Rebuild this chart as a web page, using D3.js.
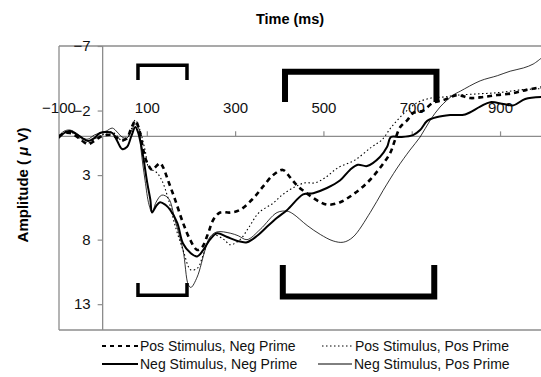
<!DOCTYPE html>
<html>
<head>
<meta charset="utf-8">
<script src="https://cdn.jsdelivr.net/npm/d3@7"></script>
<style>
  body { margin: 0; background: #fff; }
  svg { display: block; font-family: "Liberation Sans", Arial, sans-serif; }
</style>
</head>
<body>
<svg id="chart" width="541" height="377"></svg>
<script>
// données (temps en ms, amplitude en µV)
const xTicks = [-100, 100, 300, 500, 700, 900];
const yTicks = [-7, -2, 3, 8, 13];

const negNegT = [-100, -87, -74, -60, -46, -33, -19, -6, 8, 22, 33, 44, 55, 65, 74, 80, 87, 92, 101, 108, 112, 121, 130, 142, 153, 169, 182, 198, 214, 228, 243, 259, 282, 305, 327, 350, 372, 395, 418, 454, 477, 508, 538, 560, 578, 599, 628, 644, 653, 674, 703, 719, 735, 758, 787, 821, 855, 878, 908, 930, 957, 993];
const negNegV = [0.13, -0.26, -0.41, -0.18, 0.13, 0.36, 0.13, -0.26, -0.33, -0.26, 0.36, 0.98, 0.83, -0.02, -0.72, -0.33, 0.67, 1.6, 3.6, 4.9, 5.9, 5.4, 5.1, 5.3, 5.7, 6.7, 8.3, 9.0, 9.3, 8.8, 8.0, 7.5, 7.8, 8.1, 8.2, 7.7, 7.0, 6.3, 5.7, 4.5, 4.4, 4.0, 3.4, 2.6, 2.2, 2.3, 1.6, 0.83, 0.05, 0.05, -0.1, -0.49, -1.2, -1.5, -1.65, -1.7, -2.3, -2.65, -2.5, -2.4, -2.9, -3.05];

const negPosT = [-100, -87, -74, -60, -46, -33, -19, -6, 8, 22, 33, 44, 55, 65, 74, 83, 87, 96, 105, 112, 121, 134, 149, 164, 182, 194, 200, 214, 232, 243, 259, 289, 307, 327, 357, 395, 418, 431, 463, 493, 522, 545, 567, 606, 635, 667, 696, 719, 742, 764, 794, 810, 855, 894, 923, 953, 975, 993];
const negPosV = [-0.02, -0.41, -0.49, -0.26, 0.13, 0.21, -0.1, -0.26, -0.41, -0.64, -0.33, 0.05, 0.13, -0.41, -0.95, -0.49, 1.06, 3.4, 5.3, 5.9, 5.1, 4.55, 4.8, 6.5, 8.8, 11.5, 11.7, 10.9, 8.8, 7.8, 7.4, 7.5, 7.7, 8.0, 7.2, 5.9, 5.8, 6.0, 6.9, 7.6, 8.1, 8.2, 7.8, 5.9, 4.2, 2.45, 1.06, 0.05, -1.26, -2.27, -3.2, -3.5, -4.3, -4.7, -5.05, -5.3, -5.6, -6.05];

const posNegT = [-100, -87, -74, -60, -46, -33, -19, -6, 8, 22, 33, 44, 55, 65, 74, 83, 92, 101, 112, 119, 130, 137, 148, 164, 182, 198, 214, 225, 239, 250, 266, 289, 311, 341, 363, 386, 408, 424, 440, 454, 474, 493, 511, 538, 567, 599, 628, 651, 662, 674, 690, 703, 726, 748, 771, 803, 832, 862, 894, 930, 960, 993];
const posNegV = [0.05, -0.26, -0.26, -0.02, 0.36, 0.6, 0.36, 0.05, -0.1, -0.1, 0.13, 0.29, 0.13, -0.64, -1.2, -0.49, 1.06, 2.07, 2.6, 2.4, 2.07, 2.4, 3.4, 4.9, 6.7, 8.0, 8.8, 8.6, 7.5, 6.5, 5.9, 5.9, 5.7, 4.8, 3.9, 3.0, 2.6, 3.15, 3.8, 4.2, 4.7, 5.1, 5.3, 5.1, 4.5, 3.6, 2.45, 1.3, 0.29, -0.72, -1.26, -1.8, -2.0, -2.6, -2.8, -3.2, -2.97, -3.05, -3.2, -3.35, -3.6, -3.8];

const posPosT = [-100, -87, -74, -60, -46, -33, -19, -6, 8, 22, 33, 44, 55, 65, 74, 83, 96, 105, 121, 134, 149, 164, 182, 200, 215, 226, 237, 253, 275, 289, 311, 332, 354, 385, 408, 436, 458, 481, 504, 532, 571, 609, 632, 654, 683, 712, 744, 772, 806, 855, 900, 946, 993];
const posPosV = [0.05, -0.33, -0.41, -0.02, 0.29, 0.52, 0.21, -0.02, -0.26, -0.33, -0.02, 0.36, 0.21, -0.57, -1.26, -0.64, 1.06, 2.45, 2.76, 3.4, 4.9, 6.9, 8.8, 10.35, 10.2, 9.35, 8.3, 7.65, 8.0, 8.4, 8.0, 7.0, 5.9, 5.2, 4.5, 3.9, 3.6, 3.6, 3.2, 2.45, 1.84, 0.83, 0.29, -0.72, -1.8, -2.6, -2.97, -3.05, -3.2, -3.3, -3.4, -3.6, -3.7];

const seriesNames = ["Pos Stimulus, Neg Prime", "Pos Stimulus, Pos Prime", "Neg Stimulus, Neg Prime", "Neg Stimulus, Pos Prime"];

// fenêtres temporelles (crochets) : début, fin, niveau de la barre, bout des pattes
const bracketStart = [80, 413, 80, 408];
const bracketEnd = [191, 756, 191, 751];
const bracketBar = [-5.5, -5.0, 12.3, 12.4];
const bracketTip = [-4.5, -2.9, 11.5, 10.2];
const bracketWidth = [3.5, 6, 3.5, 6];

const svg = d3.select("#chart");
const plot = { left: 59, top: 46, bottom: 330, right: 541 };

const x = d3.scaleLinear().domain([-100, 1000]).range([58.5, 544.2]);
const y = d3.scaleLinear().domain([-7, 15]).range([plot.top, plot.bottom]);

svg.append("defs").append("clipPath").attr("id", "clip")
    .append("rect").attr("x", plot.left).attr("y", plot.top)
    .attr("width", plot.right - plot.left).attr("height", plot.bottom - plot.top);

// cadre gris
const grey = "#8c8c8c";
svg.append("line").attr("x1", plot.left).attr("x2", plot.right).attr("y1", plot.top).attr("y2", plot.top).attr("stroke", grey).attr("stroke-width", 1.3);
svg.append("line").attr("x1", plot.left).attr("x2", plot.right).attr("y1", plot.bottom).attr("y2", plot.bottom).attr("stroke", grey).attr("stroke-width", 1.3);
svg.append("line").attr("x1", plot.left).attr("x2", plot.left).attr("y1", plot.top).attr("y2", plot.bottom).attr("stroke", grey).attr("stroke-width", 1.3);

// axe x sur la ligne zéro
const xAxis = svg.append("g").attr("transform", `translate(0,${y(0)})`)
    .call(d3.axisTop(x).tickValues(xTicks).tickSize(5).tickPadding(18).tickFormat(d3.format("d")));
xAxis.select(".domain").remove();
xAxis.selectAll(".tick line").attr("stroke", grey).attr("stroke-width", 1.2)
    .filter(d => d === -100).remove();
xAxis.selectAll("text").attr("font-size", 15).attr("fill", "#111")
    .attr("font-family", "Liberation Sans, Arial, sans-serif");
svg.append("line").attr("x1", plot.left).attr("x2", plot.right).attr("y1", y(0)).attr("y2", y(0))
    .attr("stroke", grey).attr("stroke-width", 1.3);

// axe y sur le temps zéro
const yAxis = svg.append("g").attr("transform", `translate(${x(0)},0)`)
    .call(d3.axisLeft(y).tickValues(yTicks).tickSize(5).tickPadding(7));
yAxis.select(".domain").remove();
yAxis.selectAll(".tick line").attr("stroke", grey).attr("stroke-width", 1.2);
yAxis.selectAll("text").attr("font-size", 15).attr("fill", "#111")
    .attr("font-family", "Liberation Sans, Arial, sans-serif");
svg.append("line").attr("x1", x(0)).attr("x2", x(0)).attr("y1", plot.top).attr("y2", plot.bottom)
    .attr("stroke", grey).attr("stroke-width", 1.3);

// titres
svg.append("text").attr("x", 290).attr("y", 24).attr("text-anchor", "middle")
    .attr("font-size", 14.5).attr("font-weight", "bold").text("Time (ms)");
const yTitle = svg.append("text").attr("transform", "translate(28,185) rotate(-90)")
    .attr("text-anchor", "middle").attr("font-size", 15).attr("font-weight", "bold");
yTitle.append("tspan").text("Amplitude ( ");
yTitle.append("tspan").attr("font-style", "italic").text("μ");
yTitle.append("tspan").text(" V)");

// crochets
const brackets = bracketStart.map((s, i) => ({ s, e: bracketEnd[i], bar: bracketBar[i], tip: bracketTip[i], w: bracketWidth[i] }));
svg.append("g").selectAll("path").data(brackets).join("path")
    .attr("d", d => `M${x(d.s)},${y(d.tip)}V${y(d.bar)}H${x(d.e)}V${y(d.tip)}`)
    .attr("fill", "none").attr("stroke", "#000").attr("stroke-width", d => d.w)
    .attr("stroke-linejoin", "miter").attr("stroke-linecap", "square");

// courbes
const styles = [
    { w: 2.6, dash: "5,4" },
    { w: 1.1, dash: "1.5,2.5" },
    { w: 2.0, dash: null },
    { w: 0.8, dash: null }
];
const series = [
    posNegT.map((t, i) => [t, posNegV[i]]),
    posPosT.map((t, i) => [t, posPosV[i]]),
    negNegT.map((t, i) => [t, negNegV[i]]),
    negPosT.map((t, i) => [t, negPosV[i]])
];
const line = d3.line().x(d => x(d[0])).y(d => y(d[1])).curve(d3.curveCatmullRom.alpha(0.5));

svg.append("g").attr("clip-path", "url(#clip)")
    .selectAll("path").data(series).join("path")
    .attr("d", line)
    .attr("fill", "none").attr("stroke", "#000")
    .attr("stroke-width", (d, i) => styles[i].w)
    .attr("stroke-dasharray", (d, i) => styles[i].dash)
    .attr("stroke-linejoin", "round");

// légende
const legendPos = [[102, 346], [322, 346], [102, 364], [318, 364]];
const legendLen = [36, 31, 36, 34];
const leg = svg.append("g").selectAll("g").data(seriesNames).join("g")
    .attr("transform", (d, i) => `translate(${legendPos[i][0]},${legendPos[i][1]})`);
leg.append("line").attr("x1", 0).attr("x2", (d, i) => legendLen[i]).attr("y1", 0).attr("y2", 0)
    .attr("stroke", "#000")
    .attr("stroke-width", (d, i) => [2, 1, 2, 1][i])
    .attr("stroke-dasharray", (d, i) => ["4,4", "1.5,2.5", null, null][i]);
leg.append("text").attr("x", (d, i) => legendLen[i] + 2).attr("dy", "0.36em")
    .attr("font-size", 14).attr("fill", "#111").text(d => d);
</script>
</body>
</html>
